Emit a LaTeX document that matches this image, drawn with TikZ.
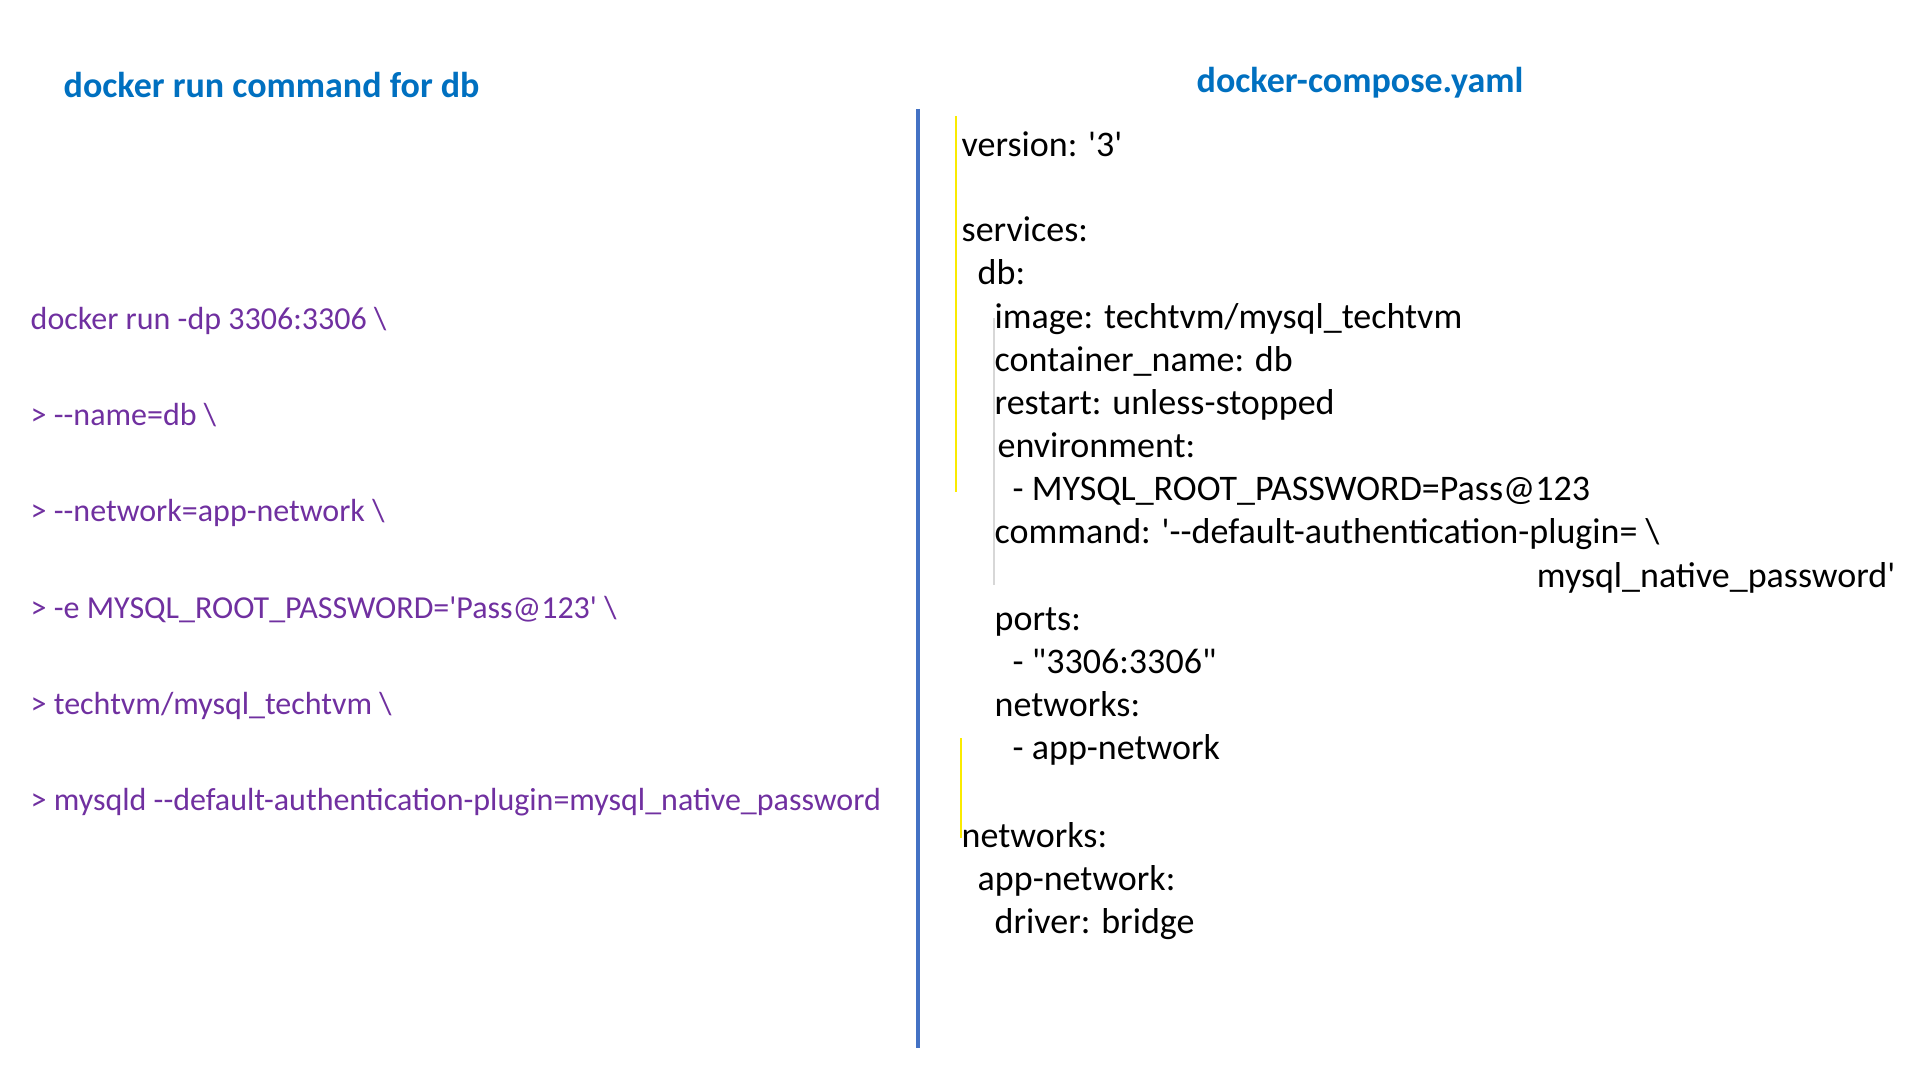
\documentclass[tikz,border=0pt]{standalone}
\usepackage{fontspec}
\setmainfont{Carlito}[Ligatures=TeXOff]
\usepackage{tikz}
\usetikzlibrary{positioning,calc}
\definecolor{titleblue}{RGB}{0,112,192}
\definecolor{cmdpurple}{RGB}{112,48,160}
\definecolor{lineblue}{RGB}{68,114,196}
\definecolor{markyellow}{RGB}{250,235,0}
\definecolor{markgrey}{RGB}{215,215,215}
\tikzstyle{Title}=[anchor=base west,inner sep=0pt,text=titleblue,font=\fontsize{10.24}{12}\selectfont\bfseries]
\tikzstyle{Cmd}=[anchor=base west,inner sep=0pt,text=cmdpurple,font=\fontsize{9.1}{11}\selectfont]
\tikzstyle{Yaml}=[anchor=base west,inner sep=0pt,text=black,font=\fontsize{10.24}{12}\selectfont]
\tikzstyle{divider}=[draw=lineblue,line width=1.15pt]
\tikzstyle{guide}=[draw=markyellow,line width=0.35pt]
\tikzstyle{ghost}=[draw=markgrey,line width=0.35pt]
\begin{document}
\begin{tikzpicture}[x=0.01cm,y=-0.01cm]
 \useasboundingbox (0,0) rectangle (1920,1080);

 \node[Title] (TL) at (63,98) {docker run command for db};
 \node[Title] (TR) at (1196,93) {docker-compose.yaml};

 % docker run
 \node[Cmd] (C1) at (30,330) {docker run -dp 3306:3306 \textbackslash};
 \node[Cmd] (C2) at (30,426) {> --name=db \textbackslash};
 \node[Cmd] (C3) at (30,522) {> --network=app-network \textbackslash};
 \node[Cmd] (C4) at (30,619) {> -e MYSQL\_ROOT\_PASSWORD='Pass@123' \textbackslash};
 \node[Cmd] (C5) at (30,715) {> techtvm/mysql\_techtvm \textbackslash};
 \node[Cmd] (C6) at (30,811) {> mysqld --default-authentication-plugin=mysql\_native\_password};

 \coordinate (TOP) at (918,109);
 \coordinate (BOT) at (918,1048);
 \draw[divider] (TOP) -- (BOT);

 % compose file
 \coordinate (Y1) at (956,116);
 \coordinate (Y2) at (956,492);
 \coordinate (Y3) at (961,738);
 \coordinate (Y4) at (961,838);
 \coordinate (G1) at (994,318);
 \coordinate (G2) at (994,585);
 \draw[guide] (Y1) -- (Y2);
 \draw[guide] (Y3) -- (Y4);
 \draw[ghost] (G1) -- (G2);

 \node[Yaml] (R1) at (961,157) {version: '3'};
 \node[Yaml] (R2) at (961,242) {services:};
 \node[Yaml] (R3) at (977,285) {db:};
 \node[Yaml] (R4) at (994,329) {image: techtvm/mysql\_techtvm};
 \node[Yaml] (R5) at (994,372) {container\_name: db};
 \node[Yaml] (R6) at (994,415) {restart: unless-stopped};
 \node[Yaml] (R7) at (997,458) {environment:};
 \node[Yaml] (R8) at (1012,501) {- MYSQL\_ROOT\_PASSWORD=Pass@123};
 \node[Yaml] (R9) at (994,544) {command: '--default-authentication-plugin= \textbackslash};
 \node[Yaml,anchor=base east] (R10) at (1896,588) {mysql\_native\_password'};
 \node[Yaml] (R11) at (994,631) {ports:};
 \node[Yaml] (R12) at (1012,674) {- "3306:3306"};
 \node[Yaml] (R13) at (994,717) {networks:};
 \node[Yaml] (R14) at (1012,760) {- app-network};
 \node[Yaml] (R15) at (961,848) {networks:};
 \node[Yaml] (R16) at (977,891) {app-network:};
 \node[Yaml] (R17) at (994,934) {driver: bridge};

\end{tikzpicture}
\end{document}
